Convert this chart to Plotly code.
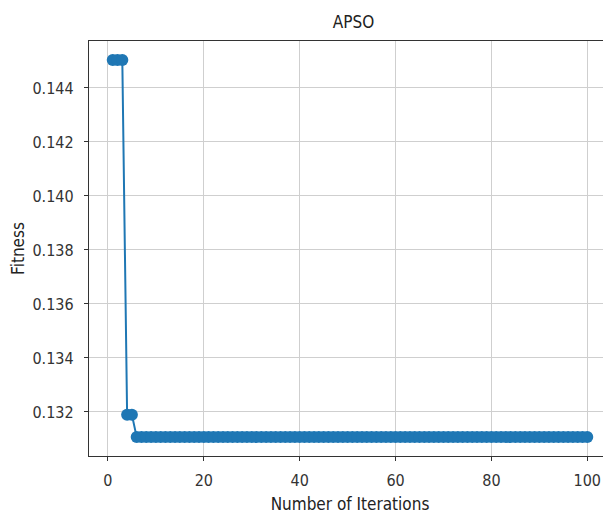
import plotly.graph_objects as go

iterations = list(range(1, 101))
fitness = [0.14504] * 3 + [0.13190] * 2 + [0.13107] * 95
x_ticks = [0, 20, 40, 60, 80, 100]
y_ticks = [0.132, 0.134, 0.136, 0.138, 0.140, 0.142, 0.144]

fig = go.Figure()
fig.add_trace(go.Scatter(
    x=iterations, y=fitness, mode="lines+markers",
    line=dict(color="#1f77b4", width=2),
    marker=dict(color="#1f77b4", size=12),
))

font = "DejaVu Sans Condensed, DejaVu Sans, sans-serif"
axis_common = dict(
    showline=True, linecolor="#333", linewidth=1.3, mirror=True,
    ticks="outside", ticklen=4, tickcolor="#333",
    showgrid=True, gridcolor="#cfcfcf", gridwidth=1, zeroline=False,
    tickfont=dict(family=font, size=16, color="#333"),
    automargin=False,
)
fig.update_layout(
    width=603, height=511,
    margin=dict(l=81, r=0, t=33, b=63),
    paper_bgcolor="white", plot_bgcolor="white",
    showlegend=False,
    title=dict(text="APSO", x=0.573, xanchor="center", y=0.972, yanchor="middle",
               font=dict(family=font, size=17, color="#222")),
    xaxis=dict(range=[-3.95, 104.95], tickvals=x_ticks, ticklabelstandoff=6,
               title=dict(text="Number of Iterations", font=dict(family=font, size=17, color="#222"), standoff=8),
               **axis_common),
    yaxis=dict(range=[0.13037, 0.14574], tickvals=y_ticks, tickformat=".3f", ticklabelstandoff=7,
               title=dict(text="Fitness", font=dict(family=font, size=17, color="#222"), standoff=5),
               **axis_common),
)
fig.write_html("out.html")
